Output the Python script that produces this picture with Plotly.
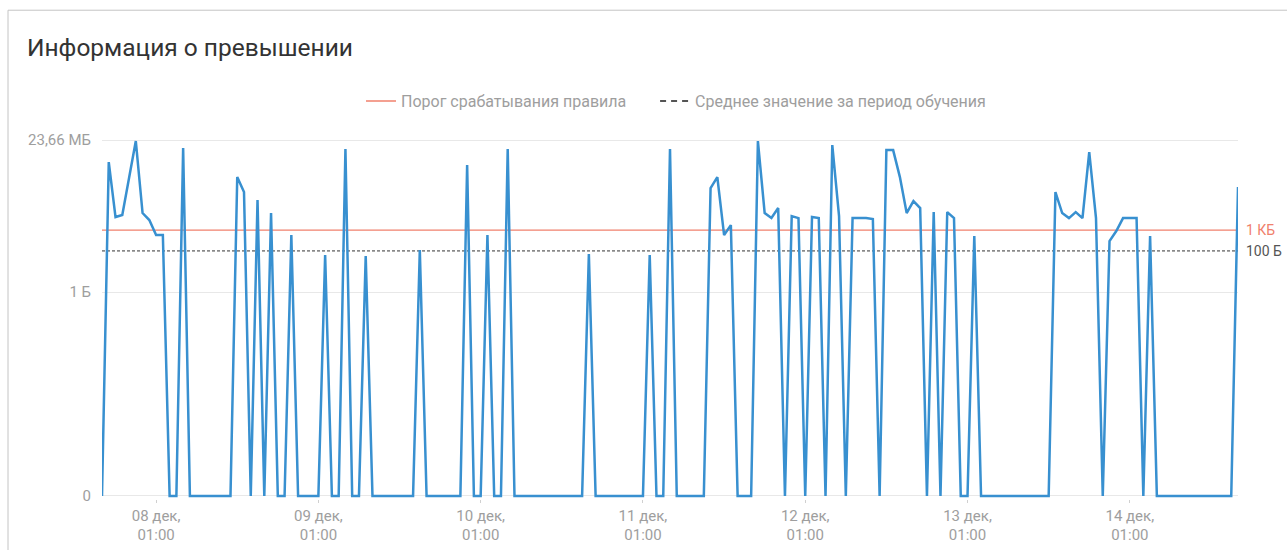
import math
import pandas as pd
import plotly.graph_objects as go

# ---- data (bytes per hour) ----
start_time = "2023-12-07 17:00"
traffic_bytes = (
    [0, 2.1e6, 4450, 5560, 3.5e5, 2.21e7, 6960, 3180, 592, 592, 0, 0]
    + [1.01e7, 0, 0, 0, 0, 0, 0, 0, 3.92e5, 7.3e4, 0, 2.98e4]
    + [0, 6960, 0, 0, 592, 0, 0, 0, 0, 63, 0, 0]
    + [9.0e6, 0, 0, 56, 0, 0, 0, 0, 0, 0, 0, 110]
    + [0, 0, 0, 0, 0, 0, 1.5e6, 0, 0, 592, 0, 0]
    + [9.0e6, 0, 0, 0, 0, 0, 0, 0, 0, 0, 0, 0]
    + [70, 0, 0, 0, 0, 0, 0, 0, 0, 63, 0, 0]
    + [9.0e6, 0, 0, 0, 0, 0, 1.14e5, 3.92e5, 592, 1800, 0, 0]
    + [0, 2.21e7, 6960, 3970, 12200, 0, 4970, 3970, 0, 4450, 3970, 0]
    + [1.41e7, 4970, 0, 3970, 3970, 3970, 3550, 0, 8.07e6, 8.07e6, 3.92e5, 6960]
    + [26700, 12200, 0, 7780, 0, 7780, 3970, 0, 0, 530, 0, 0]
    + [0, 0, 0, 0, 0, 0, 0, 0, 0, 7.3e4, 6960, 3970]
    + [7780, 3970, 6.44e6, 3970, 0, 303, 927, 3970, 3970, 3970, 0, 530]
    + [0, 0, 0, 0, 0, 0, 0, 0, 0, 0, 0, 0, 1.28e5]
)
threshold_bytes = 1024
mean_bytes = 100
max_bytes = 23.66 * 1024 * 1024

y_tick_bytes = [0, 1, max_bytes]
y_tick_labels = ["0", "1 Б", "23,66 МБ"]

x_tick_dates = ["2023-12-%02d 01:00" % d for d in range(8, 15)]
x_tick_day_labels = ["%02d дек," % d for d in range(8, 15)]
x_tick_time_labels = ["01:00"] * 7

legend_threshold = "Порог срабатывания правила"
legend_mean = "Среднее значение за период обучения"
title_text = "Информация о превышении"
threshold_label = "1 КБ"
mean_label = "100 Б"

# ---- scale: 0 -> 0, v>=1 -> 1 + log10(v)/K ----
K = 9.922


def to_t(v):
    return 0.0 if v <= 0 else 1.0 + math.log10(v) / K


times = pd.date_range(start_time, periods=len(traffic_bytes), freq="h")
t_vals = [to_t(v) for v in traffic_bytes]
t_max = to_t(max_bytes)
pad = 0.015

BLUE = "#3890d0"
SALMON = "#f0806c"
GREY = "#9e9e9e"

W, H = 1287, 550
L, R, T, B = 102, 49, 137, 51
plot_bottom = H - B
plot_h = (t_max + 2 * pad) * 204.0

fig = go.Figure()
# reference lines (no legend)
fig.add_trace(go.Scatter(
    x=[times[0], times[-1]], y=[to_t(threshold_bytes)] * 2, mode="lines",
    line=dict(color=SALMON, width=1.2), showlegend=False, hoverinfo="skip"))
fig.add_trace(go.Scatter(
    x=[times[0], times[-1]], y=[to_t(mean_bytes)] * 2, mode="lines",
    line=dict(color="#333333", width=1, dash="3px,2px"), showlegend=False, hoverinfo="skip"))
# data series
fig.add_trace(go.Scatter(
    x=times, y=t_vals, mode="lines", line=dict(color=BLUE, width=2.5),
    showlegend=False, customdata=traffic_bytes))
# legend entries
fig.add_trace(go.Scatter(
    x=[None], y=[None], mode="lines", line=dict(color=SALMON, width=1.5),
    name=legend_threshold + "\u00a0" * 6))
fig.add_trace(go.Scatter(
    x=[None], y=[None], mode="lines", line=dict(color="#555555", width=2, dash="6px,5px"),
    name=legend_mean))
# empty trace so the second (time-of-day) label axis is drawn
fig.add_trace(go.Scatter(
    x=[times[0]], y=[None], xaxis="x2", mode="lines", showlegend=False, hoverinfo="skip"))

fig.update_layout(
    width=W, height=H,
    margin=dict(l=L, r=R, t=T, b=B, autoexpand=False),
    paper_bgcolor="white", plot_bgcolor="white",
    font=dict(family="Roboto", size=15, color=GREY),
    title=dict(text=title_text, x=27 / W, xanchor="left", xref="container",
               y=1 - 47 / H, yanchor="middle", yref="container",
               font=dict(family="Roboto", size=24.5, color="#333333")),
    legend=dict(orientation="h", x=(366 - 5 - L) / 1136, xanchor="left", xref="paper",
                y=(plot_bottom - 101) / plot_h, yanchor="middle",
                font=dict(family="Roboto", size=16, color=GREY),
                itemwidth=30, bgcolor="rgba(0,0,0,0)"),
    xaxis=dict(range=[times[0], times[-1]], tickvals=x_tick_dates, ticktext=x_tick_day_labels,
               showgrid=False, zeroline=False, showline=False, automargin=False,
               ticks="outside", ticklen=3, tickcolor="#d0d0d0",
               tickfont=dict(size=15, color=GREY)),
    xaxis2=dict(overlaying="x", side="bottom", anchor="y", range=[times[0], times[-1]],
                type="date", tickvals=x_tick_dates, ticktext=x_tick_time_labels,
                showgrid=False, zeroline=False, showline=False, automargin=False,
                ticks="outside", ticklen=22, tickcolor="rgba(0,0,0,0)",
                tickfont=dict(size=15, color=GREY)),
    yaxis=dict(range=[-pad, t_max + pad], tickvals=[to_t(v) for v in y_tick_bytes],
               ticktext=y_tick_labels, showgrid=True, gridcolor="#e8e8e8", gridwidth=1,
               zeroline=False, showline=False, ticks="", ticklabelstandoff=10,
               automargin=False, tickfont=dict(size=15, color=GREY)),
    showlegend=True,
)

fig.add_annotation(x=1, xref="paper", xanchor="left", xshift=6, y=to_t(threshold_bytes),
                   yref="y", text=threshold_label, showarrow=False,
                   font=dict(family="Roboto", size=14, color=SALMON))
fig.add_annotation(x=1, xref="paper", xanchor="left", xshift=6, y=to_t(mean_bytes),
                   yref="y", text=mean_label, showarrow=False,
                   font=dict(family="Roboto", size=14, color="#555555"))

# card border
fig.add_shape(type="rect", xref="paper", yref="paper",
              x0=(8 - L) / 1136, x1=1.3, y0=-0.3, y1=(plot_bottom - 10) / plot_h,
              line=dict(color="#c4c4c4", width=1), fillcolor="rgba(0,0,0,0)", layer="below")

fig.write_html("out.html", config={"displayModeBar": False},
               post_script="document.body.style.margin='0';document.body.style.overflow='hidden';")
